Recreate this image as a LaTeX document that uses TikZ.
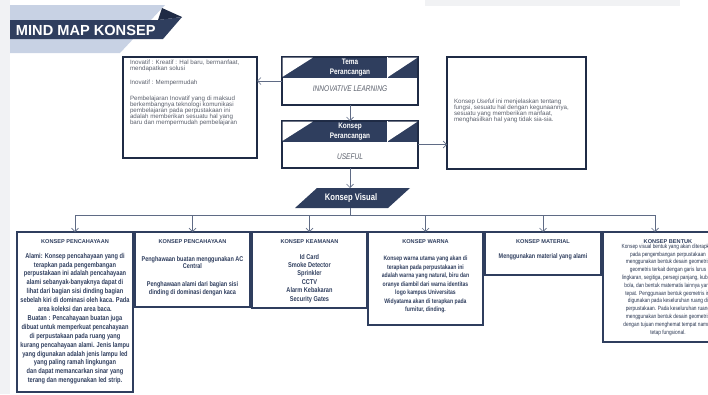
\documentclass[tikz,border=0pt]{standalone}
\usepackage{fontspec}
\setmainfont{Liberation Sans}
\newfontfamily\cond{Liberation Sans}[FakeStretch=0.8]
\usetikzlibrary{positioning,arrows.meta}

\definecolor{navy}{HTML}{2F3E5E}
\definecolor{navydark}{HTML}{1F2B45}
\definecolor{bandblue}{HTML}{C8D2E4}
\definecolor{txtgray}{HTML}{5A5F6B}
\definecolor{linegray}{HTML}{5F6B85}
\definecolor{pagegray}{HTML}{F1F2F4}

\begin{document}
\begin{tikzpicture}[x=1pt,y=-1pt,>={Straight Barb[length=3.5pt,width=7pt]}]

\tikzstyle{every node}=[inner sep=0pt, outer sep=0pt]
\tikzstyle{vbox} = [draw=navy, line width=1.6pt, rectangle, anchor=north west]
\tikzstyle{tbox} = [draw=navydark, line width=1.4pt, rectangle, anchor=north west]
\tikzstyle{head} = [font=\fontsize{5.6}{7}\selectfont\bfseries, text=navy]
\tikzstyle{body} = [font=\cond\fontsize{6.8}{8.8}\selectfont\bfseries, text=navy, align=center, anchor=north]
\tikzstyle{note} = [font=\fontsize{6.2}{5.9}\selectfont, text=txtgray, align=left, anchor=north west]
\tikzstyle{link} = [->, draw=linegray, line width=0.7pt]

\useasboundingbox (0,0) rectangle (708,394);
\begin{scope}
\clip (0,0) rectangle (708,394);
\fill[pagegray] (0,0) rectangle (10,394);
\fill[pagegray] (425,0) rectangle (680,6);

% title ribbon
\fill[bandblue] (10,5) -- (165,5) -- (120,53) -- (10,53) -- cycle;
\fill[navy] (10,20) -- (158,20) -- (182,17) -- (163,39) -- (10,39) -- cycle;
\fill[navydark] (158,20) -- (162,8) -- (182,17) -- cycle;
\node[font=\fontsize{14.6}{16}\selectfont\bfseries, text=white, anchor=west] (title) at (16,30) {MIND MAP KONSEP};

% top row
\node[tbox, minimum width=134pt, minimum height=101pt] (innov) at (123,57) {};
\node[tbox, minimum width=136pt, minimum height=48pt] (tema) at (282,57) {};
\node[tbox, minimum width=136pt, minimum height=47pt] (konsep) at (282,121) {};
\node[tbox, minimum width=139pt, minimum height=112pt] (useful) at (447,57) {};

\foreach \b/\t in {tema/Tema, konsep/Konsep} {
    \fill[navy] ([xshift=0.7pt,yshift=-0.7pt]\b.north west) rectangle ([xshift=-0.7pt,yshift=-21pt]\b.north east);
    \fill[white] ([xshift=0.7pt,yshift=-0.7pt]\b.north west) -- ++(30,0) -- ++(-30,19) -- cycle;
    \fill[white] ([xshift=-30pt,yshift=-0.7pt]\b.north east) -- ([xshift=-0.7pt,yshift=-0.7pt]\b.north east) -- ([xshift=-30pt,yshift=-20pt]\b.north east) -- cycle;
    \draw[white, line width=0.8pt] ([xshift=-31pt]\b.north east) -- ++(0,21);
    \node[font=\cond\fontsize{8}{9.5}\selectfont\bfseries, text=white, align=center] (\b head) at ([yshift=-10.5pt]\b.north) {\t\\Perancangan};
}
\node[font=\cond\fontsize{8.2}{9}\selectfont\itshape, text=txtgray] (theme) at ([yshift=-32pt]tema.north) {INNOVATIVE LEARNING};
\node[font=\cond\fontsize{8.2}{9}\selectfont\itshape, text=txtgray] (concept) at ([yshift=-36pt]konsep.north) {USEFUL};

\node[note] (innovtext) at (130,60) {Inovatif : Kreatif : Hal baru, bermanfaat,\\
mendapatkan solusi\\[8.2pt]
Inovatif : Mempermudah\\[10.2pt]
Pembelajaran Inovatif yang di maksud\\
berkembangnya teknologi komunikasi\\
pembelajaran pada perpustakaan ini\\
adalah memberikan sesuatu hal yang\\
baru dan mempermudah pembelajaran};

\node[note] (usefultext) at (454,99) {Konsep \textit{Useful} ini menjelaskan tentang\\
fungsi, sesuatu hal dengan kegunaannya,\\
sesuatu yang memberikan manfaat,\\
menghasilkan hal yang tidak sia-sia.};

\draw[link] (tema) -- (konsep);
\draw[link] (tema.west) -- (innov.east |- tema.west);
\draw[link] (konsep.east) -- (useful.west |- konsep.east);

% konsep visual
\fill[navy] (317,188) -- (410,188) -- (388,208) -- (295,208) -- cycle;
\node[minimum height=20pt, font=\cond\fontsize{9.5}{10}\selectfont\bfseries, text=white] (visual) at (351,198) {Konsep Visual};
\draw[link] (konsep) -- (konsep |- visual.north);

% bottom row
\foreach \n/\l/\r/\b/\t in {1/17/133/392/KONSEP PENCAHAYAAN, 2/135/250/307/KONSEP PENCAHAYAAN,
        3/252/367/308/KONSEP KEAMANAN, 4/368/483/325/KONSEP WARNA,
        5/485/601/275/KONSEP MATERIAL, 6/603/733/342/KONSEP BENTUK} {
    \node[vbox, minimum width={\r pt-\l pt}, minimum height={\b pt-232pt}] (box\n) at (\l,232) {};
    \node[head] (head\n) at ([yshift=-9.5pt]box\n.north) {\t};
}

\coordinate (bus) at (350,215);
\draw[linegray, line width=0.7pt] (visual.south -| bus) -- (bus);
\foreach \n/\x in {1/75,2/192.5,3/309.5,4/425.5,5/543,6/655} {
    \coordinate (bus\n) at (\x,215);
    \draw[link] (bus\n) -- (bus\n |- box\n.north);
}
\draw[linegray, line width=0.7pt] (bus1) -- (bus6);

\node[body, font=\cond\fontsize{7.1}{8.9}\selectfont\bfseries] (text1) at ([yshift=-21pt]box1.north) {Alami: Konsep pencahayaan yang di\\
terapkan pada pengembangan\\
perpustakaan ini adalah pencahayaan\\
alami sebanyak-banyaknya dapat di\\
lihat dari bagian sisi dinding bagian\\
sebelah kiri di dominasi oleh kaca. Pada\\
area koleksi dan area baca.\\
Buatan : Pencahayaan buatan juga\\
dibuat untuk memperkuat pencahayaan\\
di perpustakaan pada ruang yang\\
kurang pencahayaan alami. Jenis lampu\\
yang digunakan adalah jenis lampu led\\
yang paling ramah lingkungan\\
dan dapat memancarkan sinar yang\\
terang dan menggunakan led strip.};

\node[body, font=\cond\fontsize{6.9}{7.8}\selectfont\bfseries] (text2) at ([yshift=-24pt]box2.north) {Penghawaan buatan menggunakan AC\\
Central\\[10pt]
Penghawaan alami dari bagian sisi\\
dinding di dominasi dengan kaca};

\node[body, font=\cond\fontsize{7}{8.4}\selectfont\bfseries] (text3) at ([yshift=-22pt]box3.north) {Id Card\\
Smoke Detector\\
Sprinkler\\
CCTV\\
Alarm Kebakaran\\
Security Gates};

\node[body, font=\cond\fontsize{6.4}{8.5}\selectfont\bfseries] (text4) at ([yshift=-24pt]box4.north) {Konsep warna utama yang akan di\\
terapkan pada perpustakaan ini\\
adalah warna yang natural, biru dan\\
oranye diambil dari warna identitas\\
logo kampus Universitas\\
Widyatama akan di terapkan pada\\
furnitur, dinding.};

\node[body] (text5) at ([yshift=-22pt]box5.north) {Menggunakan material yang alami};

\node[body, font=\cond\fontsize{6}{7.8}\selectfont, text=navy!85!black] (text6) at ([yshift=-12pt]box6.north) {Konsep visual bentuk yang akan diterapkan\\
pada pengembangan perpustakaan\\
menggunakan bentuk desain geometris\\
geometris terkait dengan garis lurus\\
lingkaran, segitiga, persegi panjang, kubus,\\
bola, dan bentuk matematis lainnya yang\\
tepat. Penggunaan bentuk geometris ini\\
digunakan pada keseluruhan ruang di\\
perpustakaan. Pada keseluruhan ruang\\
menggunakan bentuk desain geometris\\
dengan tujuan menghemat tempat namun\\
tetap fungsional.};
\end{scope}

\end{tikzpicture}
\end{document}
